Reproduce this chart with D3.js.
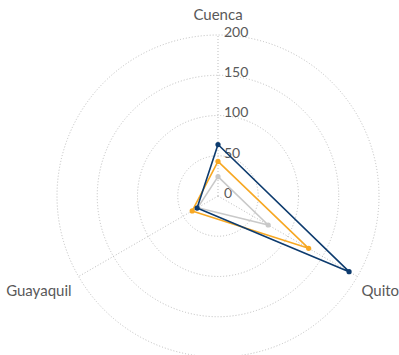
<!DOCTYPE html>
<html>
<head>
<meta charset="utf-8">
<script src="https://cdn.jsdelivr.net/npm/d3@7"></script>
<style>
  html, body { margin: 0; padding: 0; background: #fff; }
  svg { display: block; }
  text { font-family: Lato, "Open Sans", sans-serif; fill: #595959; }
</style>
</head>
<body>
<svg id="chart" width="399" height="355"></svg>
<script>
// ---- data ----
const categories = ["Cuenca", "Quito", "Guayaquil"];
const seriesGrey   = [24, 72, 29];
const seriesOrange = [43, 130, 37];
const seriesNavy   = [64, 188, 30];
const tickValues = [0, 50, 100, 150, 200];

const series = [
  { name: "grey",   values: seriesGrey,   color: "#c9c9c9" },
  { name: "orange", values: seriesOrange, color: "#f7a823" },
  { name: "navy",   values: seriesNavy,   color: "#0d3b6e" }
];

// ---- layout ----
const svg = d3.select("#chart");
const cx = 218, cy = 196, R = 161;
const g = svg.append("g").attr("transform", `translate(${cx},${cy})`);

const r = d3.scaleLinear().domain([0, 200]).range([0, R]);
const angle = d3.scalePoint().domain(categories).range([0, 2 * Math.PI * (categories.length - 1) / categories.length]);

function pt(cat, v) {
  const a = angle(cat);
  return [Math.sin(a) * r(v), -Math.cos(a) * r(v)];
}

// grid circles
g.selectAll("circle.grid")
  .data(tickValues.filter(d => d > 0))
  .join("circle")
  .attr("class", "grid")
  .attr("r", d => r(d))
  .attr("fill", "none")
  .attr("stroke", "#bdbdbd")
  .attr("stroke-width", 1)
  .attr("stroke-dasharray", "1,2");

// axis spokes
g.selectAll("line.spoke")
  .data(categories)
  .join("line")
  .attr("class", "spoke")
  .attr("x1", 0).attr("y1", 0)
  .attr("x2", d => pt(d, 200)[0])
  .attr("y2", d => pt(d, 200)[1])
  .attr("stroke", "#bdbdbd")
  .attr("stroke-width", 1)
  .attr("stroke-dasharray", "1,2");

// tick labels
g.selectAll("text.tick")
  .data(tickValues)
  .join("text")
  .attr("class", "tick")
  .attr("x", 6)
  .attr("y", d => -r(d) - 3)
  .attr("dy", "0.35em")
  .attr("font-size", "14px")
  .text(d => d);

// category labels
const labelOffsets = {
  "Cuenca":    { dx: 0,  dy: -15, anchor: "middle" },
  "Quito":     { dx: 4,  dy: 14,  anchor: "start" },
  "Guayaquil": { dx: -7, dy: 14,  anchor: "end" }
};
g.selectAll("text.cat")
  .data(categories)
  .join("text")
  .attr("class", "cat")
  .attr("x", d => pt(d, 200)[0] + labelOffsets[d].dx)
  .attr("y", d => pt(d, 200)[1] + labelOffsets[d].dy)
  .attr("text-anchor", d => labelOffsets[d].anchor)
  .attr("dy", d => d === "Cuenca" ? "0" : "0.35em")
  .attr("font-size", "15px")
  .text(d => d);

// series
const line = d3.line().curve(d3.curveLinearClosed);
series.forEach(s => {
  const pts = categories.map((c, i) => pt(c, s.values[i]));
  g.append("path")
    .attr("d", line(pts))
    .attr("fill", "none")
    .attr("stroke", s.color)
    .attr("stroke-width", 1.6)
    .attr("stroke-linejoin", "round");
  g.selectAll(null)
    .data(pts)
    .join("circle")
    .attr("cx", d => d[0])
    .attr("cy", d => d[1])
    .attr("r", 2.6)
    .attr("fill", s.color);
});
</script>
</body>
</html>
